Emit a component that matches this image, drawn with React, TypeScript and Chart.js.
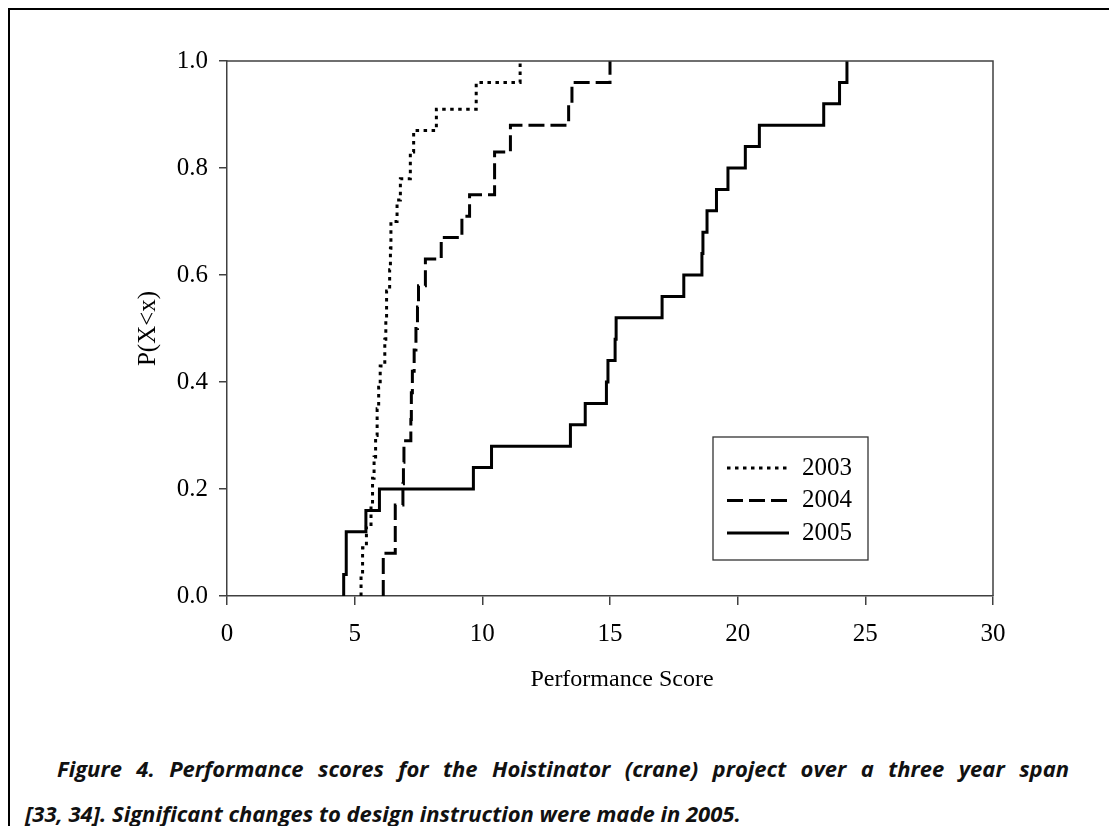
import React, { useEffect, useRef } from 'react';
import { Chart, registerables } from 'chart.js';

Chart.register(...registerables);

// ---------- data ----------
const seriesLabels = ['2003', '2004', '2005'];

const scores2003 = [5.25, 5.31, 5.46, 5.64, 5.70, 5.76, 5.82, 5.88, 5.94, 6.0, 6.18, 6.22, 6.25, 6.37, 6.40, 6.42, 6.66, 6.79, 7.18, 7.31, 8.20, 9.76, 11.48];
const prob2003 = [0.04, 0.09, 0.13, 0.17, 0.22, 0.26, 0.30, 0.35, 0.39, 0.43, 0.48, 0.52, 0.57, 0.61, 0.65, 0.70, 0.74, 0.78, 0.83, 0.87, 0.91, 0.96, 1.0];

const scores2004 = [6.12, 6.12, 6.59, 6.59, 6.89, 6.91, 6.93, 7.20, 7.22, 7.26, 7.33, 7.40, 7.46, 7.50, 7.77, 8.39, 9.20, 9.50, 10.48, 10.48, 11.10, 13.38, 13.51, 15.0];
const prob2004 = [0.04, 0.08, 0.13, 0.17, 0.21, 0.25, 0.29, 0.33, 0.38, 0.42, 0.46, 0.50, 0.54, 0.58, 0.63, 0.67, 0.71, 0.75, 0.79, 0.83, 0.88, 0.92, 0.96, 1.0];

const scores2005 = [4.57, 4.67, 4.67, 5.44, 5.97, 9.65, 10.36, 13.45, 14.03, 14.86, 14.92, 15.20, 15.24, 17.04, 17.89, 18.60, 18.64, 18.80, 19.17, 19.62, 20.30, 20.85, 23.37, 23.99, 24.28];
const prob2005 = [0.04, 0.08, 0.12, 0.16, 0.20, 0.24, 0.28, 0.32, 0.36, 0.40, 0.44, 0.48, 0.52, 0.56, 0.60, 0.64, 0.68, 0.72, 0.76, 0.80, 0.84, 0.88, 0.92, 0.96, 1.0];

const xTickValues = [0, 5, 10, 15, 20, 25, 30];
const yTickValues = [0, 0.2, 0.4, 0.6, 0.8, 1.0];

const xTitle = 'Performance Score';
const yTitle = 'P(X<x)';
const captionLine1 = 'Figure 4. Performance scores for the Hoistinator (crane) project over a three year span';
const captionLine2 = '[33, 34]. Significant changes to design instruction were made in 2005.';

// ---------- helpers ----------
const SERIF = '"Liberation Serif", "Times New Roman", serif';

function ecdf(xs: number[], ps: number[]) {
  const pts = [{ x: xs[0], y: 0 }];
  xs.forEach((x, i) => pts.push({ x, y: ps[i] }));
  return pts;
}

const framePlugin = {
  id: 'frame',
  afterDraw(chart: any) {
    const { ctx, chartArea } = chart;
    ctx.save();
    ctx.strokeStyle = '#404040';
    ctx.lineWidth = 1.5;
    ctx.beginPath();
    ctx.moveTo(chartArea.left, chartArea.top);
    ctx.lineTo(chartArea.right, chartArea.top);
    ctx.lineTo(chartArea.right, chartArea.bottom);
    ctx.stroke();
    ctx.restore();
  },
};

// x-axis title, drawn slightly right of the plot centre as in the reference
const xTitlePlugin = {
  id: 'xTitle',
  afterDraw(chart: any) {
    const { ctx, chartArea } = chart;
    ctx.save();
    ctx.fillStyle = '#000';
    ctx.font = `24px ${SERIF}`;
    ctx.textAlign = 'center';
    ctx.textBaseline = 'middle';
    ctx.fillText(xTitle, (chartArea.left + chartArea.right) / 2 + 12, chartArea.bottom + 84);
    ctx.restore();
  },
};

const legendPlugin = {
  id: 'boxLegend',
  afterDraw(chart: any) {
    const { ctx, chartArea } = chart;
    const bx = chartArea.left + 486;
    const by = chartArea.top + 376;
    const bw = 155;
    const bh = 123;
    ctx.save();
    ctx.strokeStyle = '#333';
    ctx.lineWidth = 1.3;
    ctx.setLineDash([]);
    ctx.strokeRect(bx, by, bw, bh);
    chart.data.datasets.forEach((ds: any, i: number) => {
      const y = by + 31 + i * 32.5;
      ctx.setLineDash(ds.borderDash || []);
      ctx.lineWidth = ds.borderWidth;
      ctx.strokeStyle = ds.borderColor;
      ctx.beginPath();
      ctx.moveTo(bx + 14, y);
      ctx.lineTo(bx + 76, y);
      ctx.stroke();
      ctx.setLineDash([]);
      ctx.fillStyle = '#000';
      ctx.font = `25px ${SERIF}`;
      ctx.textBaseline = 'middle';
      ctx.textAlign = 'left';
      ctx.fillText(ds.label, bx + 89, y);
    });
    ctx.restore();
  },
};

export default function App() {
  const canvasRef = useRef<HTMLCanvasElement | null>(null);

  useEffect(() => {
    if (!canvasRef.current) return;
    const dashes = [[3.5, 4.5], [16, 6], []];
    const series = [
      ecdf(scores2003, prob2003),
      ecdf(scores2004, prob2004),
      ecdf(scores2005, prob2005),
    ];
    const chart = new Chart(canvasRef.current, {
      type: 'line',
      data: {
        datasets: series.map((data, i) => ({
          label: seriesLabels[i],
          data,
          stepped: 'before',
          borderColor: '#000',
          borderWidth: 3,
          borderDash: dashes[i],
          pointRadius: 0,
          fill: false,
          clip: 4,
        })),
      },
      options: {
        animation: false,
        responsive: false,
        devicePixelRatio: 1,
        events: [],
        layout: { padding: { left: 0, top: 51, right: 116, bottom: 0 } },
        plugins: {
          legend: { display: false },
          tooltip: { enabled: false },
          title: { display: false },
        },
        scales: {
          x: {
            type: 'linear',
            min: 0,
            max: 30,
            afterBuildTicks: (s: any) => {
              s.ticks = xTickValues.map((v) => ({ value: v }));
            },
            afterFit: (s: any) => {
              s.height = 114;
            },
            ticks: { color: '#000', font: { family: SERIF, size: 25 }, padding: 14, maxRotation: 0 },
            grid: { drawOnChartArea: false, drawTicks: true, tickLength: 9, color: '#404040', lineWidth: 1.5 },
            border: { display: true, color: '#404040', width: 1.5 },
            title: { display: false },
          },
          y: {
            type: 'linear',
            min: 0,
            max: 1,
            afterBuildTicks: (s: any) => {
              s.ticks = yTickValues.map((v) => ({ value: v }));
            },
            afterFit: (s: any) => {
              s.width = 217;
            },
            ticks: {
              color: '#000',
              font: { family: SERIF, size: 25 },
              padding: 11,
              callback: (v: any) => Number(v).toFixed(1),
            },
            grid: { drawOnChartArea: false, drawTicks: true, tickLength: 8, color: '#404040', lineWidth: 1.5 },
            border: { display: true, color: '#404040', width: 1.5 },
            title: {
              display: true,
              text: yTitle,
              color: '#000',
              font: { family: SERIF, size: 25 },
              padding: { top: 123, bottom: 0 },
            },
          },
        },
      },
      plugins: [framePlugin, xTitlePlugin, legendPlugin],
    } as any);
    return () => chart.destroy();
  }, []);

  const captionStyle: React.CSSProperties = {
    position: 'absolute',
    fontFamily: '"Open Sans", "DejaVu Sans", sans-serif',
    fontWeight: 700,
    fontStyle: 'italic',
    fontSize: 22,
    color: '#111',
    whiteSpace: 'nowrap',
    lineHeight: '30px',
    margin: 0,
  };

  return (
    <div
      style={{
        position: 'absolute',
        left: 8,
        top: 8,
        width: 1101,
        height: 818,
        boxSizing: 'border-box',
        borderTop: '2px solid #000',
        borderLeft: '2px solid #000',
      }}
    >
      <canvas ref={canvasRef} width={1099} height={700} style={{ position: 'absolute', left: 0, top: 0, width: 1099, height: 700 }} />
      <p
        style={{
          ...captionStyle,
          left: 47,
          top: 743,
          width: 1012,
          whiteSpace: 'normal',
          textAlign: 'justify',
          textAlignLast: 'justify',
        }}
      >
        {captionLine1}
      </p>
      <p style={{ ...captionStyle, left: 15, top: 788 }}>{captionLine2}</p>
    </div>
  );
}
